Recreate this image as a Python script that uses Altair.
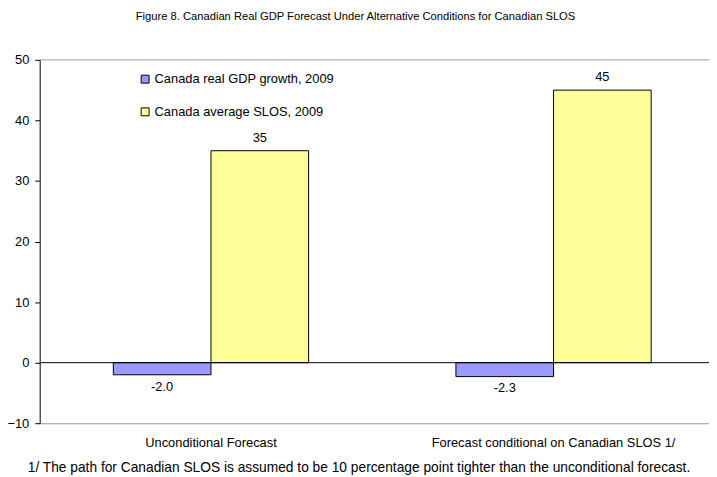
import altair as alt
import pandas as pd

categories = ["Unconditional Forecast", "Forecast conditional on Canadian SLOS 1/"]
series = ["Canada real GDP growth, 2009", "Canada average SLOS, 2009"]
gdp_growth = [-2.0, -2.3]
avg_slos = [35, 45]
y_ticks = [-10, 0, 10, 20, 30, 40, 50]
colors = ["#9999FF", "#FFFF99"]

rows = []
for i, c in enumerate(categories):
    rows.append({"cat": c, "series": series[0], "value": gdp_growth[i], "label": f"{gdp_growth[i]:.1f}"})
    rows.append({"cat": c, "series": series[1], "value": avg_slos[i], "label": f"{avg_slos[i]:.0f}"})
df = pd.DataFrame(rows)

FONT = "Liberation Sans"
FOOT = "1/ The path for Canadian SLOS is assumed to be 10 percentage point tighter than the unconditional forecast."

base = alt.Chart(df).encode(
    x=alt.X("cat:N", sort=categories,
            scale=alt.Scale(paddingInner=0.43, paddingOuter=0.215, range=[0, 692]),
            axis=alt.Axis(title=FOOT, labelAngle=0, ticks=False, domainColor="#999999",
                          labelPadding=13, titlePadding=12, titleFontWeight="normal",
                          titleFontSize=13.9, labelFontSize=13, labelColor="black",
                          titleColor="black", labelFont=FONT, titleFont=FONT, titleX=322,
                          labelLimit=0)),
    xOffset=alt.XOffset("series:N", sort=series),
    y=alt.Y("value:Q", scale=alt.Scale(domain=[-10, 50]),
            axis=alt.Axis(title=None, values=y_ticks, grid=False, domainColor="black",
                          tickColor="black", tickSize=5, labelPadding=6, labelFontSize=13,
                          labelColor="black", labelFont=FONT)),
)

bars = base.mark_bar(stroke="black", strokeWidth=1).encode(
    color=alt.Color("series:N", sort=series,
                    scale=alt.Scale(domain=series, range=colors),
                    legend=alt.Legend(title=None, orient="none", legendX=100, legendY=13,
                                      symbolType="square", symbolSize=64,
                                      symbolStrokeColor="black", symbolStrokeWidth=1,
                                      symbolOpacity=1,
                                      labelFontSize=13, labelFont=FONT, labelColor="black",
                                      rowPadding=19, labelOffset=3, labelLimit=0)),
)

pos_text = base.transform_filter("datum.value >= 0").mark_text(
    baseline="bottom", dy=-6, fontSize=13, font=FONT, color="black").encode(text="label:N")
neg_text = base.transform_filter("datum.value < 0").mark_text(
    baseline="top", dy=6, fontSize=13, font=FONT, color="black").encode(text="label:N")

zero = alt.Chart(pd.DataFrame({"y": [0]})).mark_rule(color="black", strokeWidth=1).encode(y="y:Q")
top = alt.Chart(pd.DataFrame({"y": [50]})).mark_rule(color="#999999", strokeWidth=1).encode(y="y:Q")

chart = alt.layer(top, bars, zero, pos_text, neg_text).properties(
    width=676, height=367,
    title=alt.TitleParams("Figure 8. Canadian Real GDP Forecast Under Alternative Conditions for Canadian SLOS",
                          fontSize=11.3, fontWeight="normal", font=FONT, color="black",
                          anchor="middle", dx=-19, offset=32),
    autosize=alt.AutoSizeParams(type="none"),
    padding={"left": 32, "top": 50, "right": 0, "bottom": 60},
).configure_view(stroke=None)

chart.save("out.html", embed_options={"renderer": "svg", "actions": False})
